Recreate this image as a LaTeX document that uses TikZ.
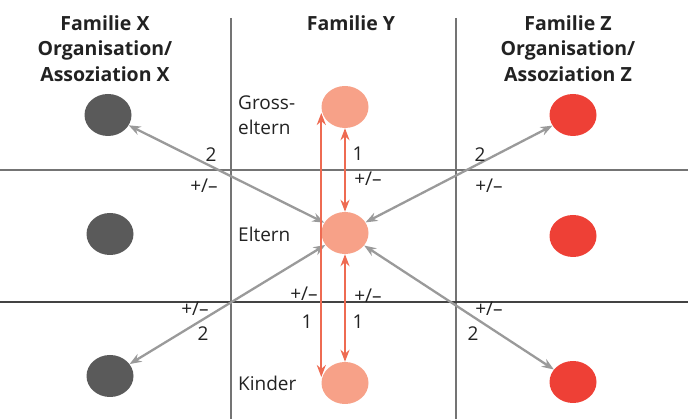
\documentclass[tikz,border=0pt]{standalone}
\usepackage{fontspec}
\setmainfont{Open Sans}
\usetikzlibrary{arrows.meta,shapes.geometric}
\definecolor{dgray}{HTML}{5A5A5A}
\definecolor{zred}{HTML}{EE4036}
\definecolor{salmon}{HTML}{F7A188}
\definecolor{agray}{HTML}{9A9A9A}
\definecolor{ared}{HTML}{EE6B52}
\definecolor{lgray}{HTML}{747474}
\definecolor{txt}{HTML}{222222}
\begin{document}
\begin{tikzpicture}[x=1pt,y=-1pt,
  dot/.style={ellipse, minimum width=47pt, minimum height=42pt, inner sep=0pt, draw=none},
  xdot/.style={dot, fill=dgray},
  ydot/.style={dot, fill=salmon},
  zdot/.style={dot, fill=zred},
  garrow/.style={draw=agray, line width=2.3pt, {Stealth[length=12pt,width=9pt]}-{Stealth[length=12pt,width=9pt]}},
  rarrow/.style={draw=ared, line width=2.3pt, {Stealth[length=12pt,width=9pt]}-{Stealth[length=12pt,width=9pt]}},
  lbl/.style={font=\fontsize{19}{25}\selectfont, text=txt, inner sep=0pt},
  head/.style={font=\bfseries\fontsize{19.5}{25.5}\selectfont, text=txt, align=center, inner sep=0pt, anchor=north},
  grid/.style={draw=lgray, line width=1.3pt}]
\useasboundingbox (0,0) rectangle (688,419);
% grid
\draw[grid] (231,18) -- (231,419);
\draw[grid] (456,18) -- (456,419);
\draw[grid] (0,170) -- (688,170);
\draw[draw=txt!85, line width=1.3pt] (0,302) -- (688,302);
% headers
\node[head] (hx) at (105,15) {Familie X\\Organisation/\\Assoziation X};
\node[head] (hy) at (351,15) {Familie Y};
\node[head] (hz) at (568,15) {Familie Z\\Organisation/\\Assoziation Z};
% circles
\node[xdot] (x1) at (108,115) {};
\node[xdot] (x2) at (110,234) {};
\node[xdot] (x3) at (110,376) {};
\node[ydot] (y1) at (345,107) {};
\node[ydot] (y2) at (345,233) {};
\node[ydot] (y3) at (345,383) {};
\node[zdot] (z1) at (573,115) {};
\node[zdot] (z2) at (573,236) {};
\node[zdot] (z3) at (573,382) {};
% side labels
\node[lbl, anchor=west, align=left] (lg) at (238,115) {Gross-\\eltern};
\node[lbl, anchor=west] (le) at (238,234) {Eltern};
\node[lbl, anchor=west] (lk) at (238,383) {Kinder};
% arrows
\draw[garrow] (y2) -- (x1);
\draw[garrow] (y2) -- (z1);
\draw[garrow] (y2) -- (x3);
\draw[garrow] (y2) -- (z3);
\draw[rarrow] (y1) -- (y2);
\draw[rarrow] (y2) -- (y3);
\coordinate (lt) at ([yshift=-6pt]y1.west);
\coordinate (lb) at ([yshift=6pt]y3.west);
\draw[rarrow] (lt) -- (lb);
% numbers
\node[lbl] (n1) at (211,155) {2};
\node[lbl] (n2) at (204,186) {+/–};
\node[lbl] (n3) at (480,155) {2};
\node[lbl] (n4) at (489,186) {+/–};
\node[lbl] (n5) at (195,309) {+/–};
\node[lbl] (n6) at (203,334) {2};
\node[lbl] (n7) at (489,309) {+/–};
\node[lbl] (n8) at (473,334) {2};
\node[lbl] (n9) at (358,154) {1};
\node[lbl] (n10) at (368,179) {+/–};
\node[lbl] (n11) at (304,294) {+/–};
\node[lbl] (n12) at (307,322) {1};
\node[lbl] (n13) at (368,296) {+/–};
\node[lbl] (n14) at (358,322) {1};
\end{tikzpicture}
\end{document}
